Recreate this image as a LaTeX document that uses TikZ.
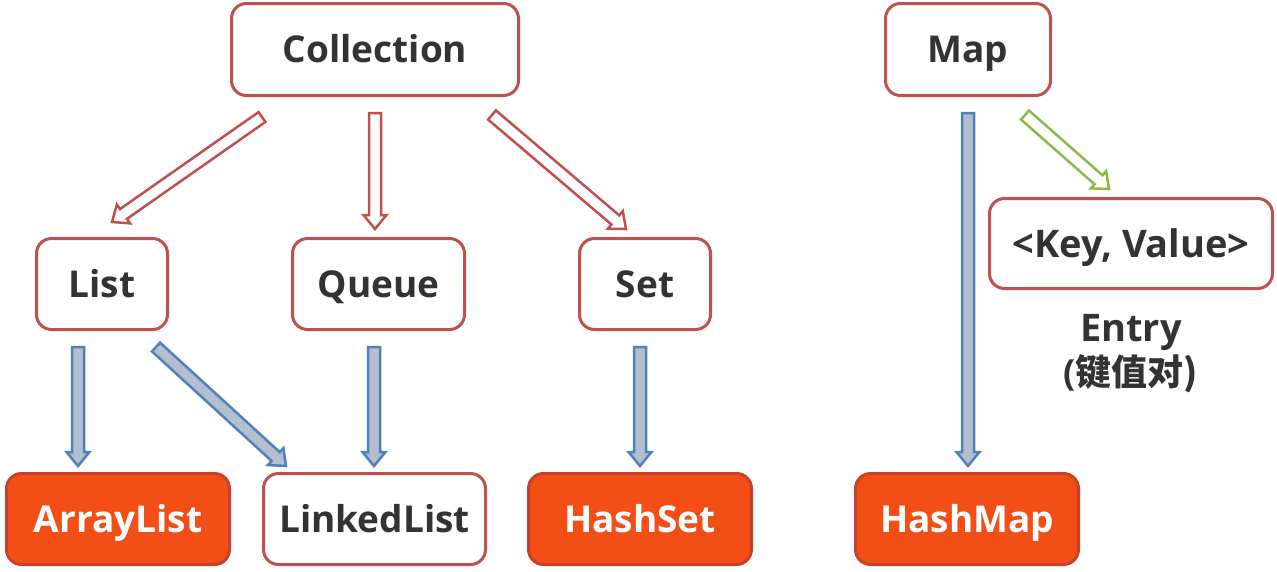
\documentclass[tikz,border=0pt]{standalone}
\usepackage{fontspec}
\setmainfont{Open Sans}
\newfontfamily\cjk{Noto Sans CJK SC}
\usetikzlibrary{calc}
\definecolor{boxred}{HTML}{C0504D}
\definecolor{textgray}{HTML}{333333}
\definecolor{hotfill}{HTML}{F24E16}
\definecolor{hotborder}{HTML}{C8412A}
\definecolor{arrblue}{HTML}{4F81BD}
\definecolor{arrbluefill}{HTML}{B3BECF}
\definecolor{arrgreen}{HTML}{8DB84A}
\newcommand\blockarrow[3]{%
  \coordinate (ba-n) at ($(#3)!14pt!(#2)$);
  \draw[#1] ($(#2)!6pt!90:(#3)$) -- ($(ba-n)!6pt!-90:(#2)$) -- ($(ba-n)!11.5pt!-90:(#2)$) -- (#3)
    -- ($(ba-n)!11.5pt!90:(#2)$) -- ($(ba-n)!6pt!90:(#2)$) -- ($(#2)!6pt!-90:(#3)$) -- cycle;}
\begin{document}
\begin{tikzpicture}[x=1pt,y=-1pt,
  base/.style={rounded corners=15pt, line width=3pt, inner sep=0pt, align=center,
    text height=26.6pt, text depth=0pt,
    font=\fontsize{37}{44}\selectfont\bfseries},
  plain/.style={base, draw=boxred, fill=white, text=textgray},
  hot/.style={base, draw=hotborder, fill=hotfill, text=white},
  label/.style={inner sep=0pt, text=textgray, text height=27.4pt, text depth=0pt,
    font=\fontsize{38}{44}\selectfont\bfseries},
  redarr/.style={draw=boxred, fill=white, line width=2.5pt, line join=miter},
  bluearr/.style={draw=arrblue, fill=arrbluefill, line width=2.5pt, line join=miter},
  greenarr/.style={draw=arrgreen, fill=white, line width=2.5pt, line join=miter}]
\useasboundingbox (0,0) rectangle (1277,571);
% nodes
\node[plain, minimum width=287, minimum height=92] (coll) at (375,49.5) {Collection};
\node[plain, minimum width=165, minimum height=92] (map) at (968,49.5) {Map};
\node[plain, minimum width=131, minimum height=91] (list) at (102,284) {List};
\node[plain, minimum width=172, minimum height=91] (queue) at (378.5,284) {Queue};
\node[plain, minimum width=131, minimum height=91] (set) at (645,284) {Set};
\node[plain, minimum width=283, minimum height=90, text height=27.4pt, font=\fontsize{38}{44}\selectfont\bfseries] (kv) at (1131,243.5) {<Key, Value>};
\node[label] (entry) at (1131,328) {Entry};
\node[label, text height=26pt, font=\fontsize{36}{42}\selectfont\bfseries] (jzd) at (1131,372) {(\cjk\bfseries 键值对)};
\node[hot, minimum width=223, minimum height=91] (alist) at (118,519) {ArrayList};
\node[plain, minimum width=222, minimum height=91] (llist) at (374.5,519) {LinkedList};
\node[hot, minimum width=223, minimum height=91] (hset) at (640,519) {HashSet};
\node[hot, minimum width=223, minimum height=91] (hmap) at (967,519) {HashMap};
% arrow end points
\coordinate (cl-s) at (262,117);  \coordinate (cl-e) at (112,222);
\coordinate (cq-s) at (375,113);  \coordinate (cq-e) at (375,229);
\coordinate (cs-s) at (492,115);  \coordinate (cs-e) at (626,229);
\coordinate (la-s) at (78,347);   \coordinate (la-e) at (78,466);
\coordinate (ll-s) at (156,347);  \coordinate (ll-e) at (286,466);
\coordinate (ql-s) at (374,347);  \coordinate (ql-e) at (374,466);
\coordinate (sh-s) at (640,347);  \coordinate (sh-e) at (640,466);
\coordinate (mh-s) at (968,113);  \coordinate (mh-e) at (968,466);
\coordinate (mk-s) at (1025,115); \coordinate (mk-e) at (1109,189);
% arrows
\blockarrow{redarr}{cl-s}{cl-e}
\blockarrow{redarr}{cq-s}{cq-e}
\blockarrow{redarr}{cs-s}{cs-e}
\blockarrow{bluearr}{la-s}{la-e}
\blockarrow{bluearr}{ll-s}{ll-e}
\blockarrow{bluearr}{ql-s}{ql-e}
\blockarrow{bluearr}{sh-s}{sh-e}
\blockarrow{bluearr}{mh-s}{mh-e}
\blockarrow{greenarr}{mk-s}{mk-e}
\end{tikzpicture}
\end{document}
